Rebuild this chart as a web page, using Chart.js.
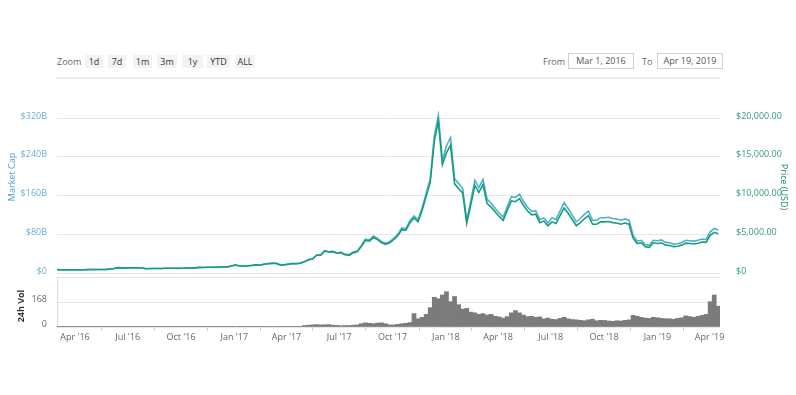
<!DOCTYPE html>
<html>
<head>
<meta charset="utf-8">
<script src="https://cdn.jsdelivr.net/npm/chart.js@4.4.1/dist/chart.umd.min.js"></script>
<style>
body { margin: 0; background: #fff; font-family: 'Open Sans', sans-serif; }
#wrap { position: relative; width: 796px; height: 395px; overflow: hidden; }
canvas { position: absolute; left: 0; top: 0; }
.lbl { position: absolute; top: 55px; line-height: 13px; font-size: 9px; color: #666; }
.btn { position: absolute; top: 55px; height: 13px; line-height: 13px; background: #f3f3f3; color: #333; font-size: 9px; text-align: center; }
.box { position: absolute; top: 53px; height: 14px; line-height: 14px; border: 1px solid #d2d2d2; color: #555; font-size: 9px; text-align: center; }
.rule { position: absolute; left: 56px; top: 77px; width: 664px; height: 2px; background: #ededed; }
</style>
</head>
<body>
<div id="wrap">
  <div class="lbl" style="left:57px">Zoom</div>
  <div class="btn" style="left:85px;width:18px">1d</div>
  <div class="btn" style="left:108px;width:18px">7d</div>
  <div class="btn" style="left:133px;width:19px">1m</div>
  <div class="btn" style="left:157px;width:20px">3m</div>
  <div class="btn" style="left:182px;width:21px">1y</div>
  <div class="btn" style="left:207px;width:23px">YTD</div>
  <div class="btn" style="left:235px;width:20px">ALL</div>
  <div class="lbl" style="left:543px">From</div>
  <div class="box" style="left:568px;width:64px">Mar 1, 2016</div>
  <div class="lbl" style="left:642px">To</div>
  <div class="box" style="left:657px;width:64px">Apr 19, 2019</div>
  <div class="rule"></div>
  <canvas id="main" width="796" height="395"></canvas>
  <canvas id="vol" width="796" height="395"></canvas>
</div>
<script>
// weekly samples, starting Mar 1, 2016
var startDate = '2016-03-01';
var endDate = '2019-04-19';
var stepDays = 7;

// price in USD
var price = [
  435, 412, 415, 418, 416, 421, 424, 430, 460, 448,
  455, 454, 445, 535, 580, 690, 665, 645, 670, 668,
  672, 655, 545, 590, 575, 585, 577, 610, 608, 610,
  605, 612, 640, 636, 655, 730, 710, 745, 740, 735,
  765, 780, 795, 900, 1035, 905, 900, 920, 970, 1050,
  1000, 1120, 1190, 1240, 1240, 1040, 1045, 1130, 1210, 1200,
  1260, 1450, 1720, 1800, 2300, 2300, 2850, 2700, 2750, 2550,
  2600, 2350, 2280, 2600, 2730, 3400, 4200, 4100, 4600, 4300,
  3900, 3700, 3900, 4300, 4800, 5600, 5500, 6500, 7100, 6600,
  8100, 9900, 11700, 17000, 19600, 14000, 15500, 16500, 11500, 10900,
  10300, 6400, 8800, 11300, 10400, 11400, 9000, 8500, 7900, 7300,
  6800, 8100, 9300, 9200, 9600, 8700, 8000, 7500, 7600, 6500,
  6700, 6100, 6600, 6400, 7400, 8400, 7700, 6900, 6100, 6500,
  7000, 7400, 6300, 6300, 6600, 6600, 6650, 6500, 6450, 6300,
  6450, 6300, 4500, 3800, 3900, 3400, 3300, 3900, 3800, 3900,
  3600, 3550, 3400, 3450, 3600, 3850, 3800, 3750, 3850, 4000,
  3950, 4850, 5250, 5050
];

// market cap in billions USD
var marketCap = [
  6.68, 6.32, 6.37, 6.42, 6.39, 6.46, 6.51, 6.60, 7.06, 6.88,
  7.10, 7.08, 6.94, 8.35, 9.05, 10.76, 10.37, 10.06, 10.45, 10.42,
  10.68, 10.41, 8.67, 9.38, 9.14, 9.30, 9.17, 9.70, 9.67, 9.70,
  9.62, 9.73, 10.18, 10.11, 10.41, 11.61, 11.29, 11.85, 11.77, 11.69,
  12.16, 12.40, 12.64, 14.31, 16.77, 14.66, 14.58, 14.90, 15.71, 17.01,
  16.20, 18.14, 19.28, 20.09, 20.09, 16.85, 16.93, 18.31, 19.60, 19.44,
  20.41, 23.49, 27.86, 29.16, 37.26, 37.26, 46.17, 43.74, 44.55, 41.31,
  43.16, 39.01, 37.85, 43.16, 45.32, 56.44, 69.72, 68.06, 76.36, 71.38,
  64.74, 61.42, 64.74, 71.38, 79.68, 92.96, 91.30, 107.9, 117.9, 109.6,
  134.5, 164.3, 194.2, 282.2, 325.4, 232.4, 262.7, 279.7, 194.9, 184.8,
  174.6, 108.5, 149.2, 191.5, 176.3, 193.2, 152.6, 144.1, 133.9, 123.7,
  115.3, 137.3, 157.6, 155.9, 162.7, 147.5, 135.6, 127.1, 128.8, 110.2,
  113.6, 103.4, 114.2, 110.7, 128.0, 145.3, 133.2, 119.4, 105.5, 112.5,
  121.1, 128.0, 109.0, 109.0, 114.2, 114.2, 115.0, 112.5, 111.6, 109.0,
  111.6, 109.0, 77.9, 65.7, 67.5, 58.8, 57.1, 67.5, 66.7, 68.4,
  63.2, 62.3, 59.7, 60.5, 63.2, 67.6, 66.7, 65.8, 67.6, 70.2,
  69.3, 85.1, 92.1, 88.6
];

// 24h volume (axis units)
var volume = [
  1, 1, 1, 1, 1, 1, 1, 1, 1, 1,
  1, 1, 1, 1, 2, 2, 2, 1, 1, 1,
  1, 1, 2, 1, 1, 1, 1, 1, 1, 1,
  1, 1, 1, 1, 1, 1, 1, 1, 1, 1,
  1, 1, 1, 2, 3, 2, 2, 2, 2, 2,
  2, 2, 3, 3, 3, 2, 2, 2, 2, 2,
  2, 10, 12, 14, 16, 14, 15, 16, 12, 11,
  8, 10, 10, 12, 14, 22, 28, 25, 22, 26,
  28, 22, 14, 14, 18, 22, 25, 30, 90, 55,
  65, 85, 130, 200, 190, 215, 237, 170, 205, 150,
  120, 125, 100, 95, 85, 90, 80, 85, 72, 68,
  60, 70, 95, 110, 95, 80, 70, 72, 65, 68,
  55, 60, 52, 50, 58, 65, 55, 50, 48, 45,
  42, 48, 52, 42, 45, 44, 40, 38, 42, 40,
  45, 48, 78, 72, 65, 60, 58, 65, 62, 58,
  56, 55, 52, 58, 62, 75, 70, 65, 72, 78,
  85, 170, 215, 140
];

var tickDates = ['2016-04-01', '2016-07-01', '2016-10-01', '2017-01-01', '2017-04-01', '2017-07-01',
  '2017-10-01', '2018-01-01', '2018-04-01', '2018-07-01', '2018-10-01', '2019-01-01', '2019-04-01'];
var tickLabels = ["Apr '16", "Jul '16", "Oct '16", "Jan '17", "Apr '17", "Jul '17",
  "Oct '17", "Jan '18", "Apr '18", "Jul '18", "Oct '18", "Jan '19", "Apr '19"];

var capTicks = [0, 80, 160, 240, 320];
var priceTicks = [0, 5000, 10000, 15000, 20000];
var volTicks = [0, 168, 336];

function dayOf(s) {
  return (Date.parse(s) - Date.parse(startDate)) / 86400000;
}
function points(arr) {
  return arr.map(function(v, i) { return { x: i * stepDays, y: v }; });
}
var xMax = dayOf(endDate);
var FONT = "'Open Sans', sans-serif";
Chart.defaults.font.family = FONT;
Chart.defaults.font.size = 9;

// rotated axis titles at fixed spots
function titlePlugin(items) {
  return {
    id: 'titles',
    afterDraw: function(chart) {
      var ctx = chart.ctx;
      items.forEach(function(t) {
        ctx.save();
        ctx.translate(t.x, t.y);
        ctx.rotate(t.rot);
        ctx.font = (t.bold ? 'bold ' : '') + '9px ' + FONT;
        ctx.fillStyle = t.color;
        ctx.textAlign = 'center';
        ctx.textBaseline = 'middle';
        ctx.fillText(t.text, 0, 0);
        ctx.restore();
      });
    }
  };
}

new Chart(document.getElementById('main'), {
  type: 'line',
  data: {
    datasets: [{
      label: 'Price (USD)',
      data: points(price),
      yAxisID: 'yPrice',
      borderColor: '#1c9b7a',
      borderWidth: 1.6,
      pointRadius: 0,
      tension: 0,
      clip: false
    }, {
      label: 'Market Cap',
      data: points(marketCap),
      yAxisID: 'yCap',
      borderColor: '#47b2cf',
      borderWidth: 1.6,
      pointRadius: 0,
      tension: 0,
      clip: false
    }]
  },
  options: {
    responsive: false,
    animation: false,
    devicePixelRatio: 1,
    layout: { padding: { left: 0, right: 0, top: 118, bottom: 122 } },
    plugins: { legend: { display: false }, tooltip: { enabled: false } },
    scales: {
      x: { type: 'linear', min: 0, max: xMax, display: false },
      yCap: {
        position: 'left', min: 0, max: 320,
        afterBuildTicks: function(s) { s.ticks = capTicks.map(function(v) { return { value: v }; }); },
        afterFit: function(s) { s.width = 57; },
        ticks: {
          color: '#6badd4', padding: 10, labelOffset: -2,
          callback: function(v) { return v === 0 ? '$0' : '$' + v + 'B'; }
        },
        grid: { color: '#e6e6e6', drawTicks: false },
        border: { display: false }
      },
      yPrice: {
        position: 'right', min: 0, max: 20000,
        afterBuildTicks: function(s) { s.ticks = priceTicks.map(function(v) { return { value: v }; }); },
        afterFit: function(s) { s.width = 76; },
        ticks: {
          color: '#2e9c7d', padding: 8, labelOffset: -2,
          callback: function(v) {
            return v === 0 ? '$0' : '$' + v.toLocaleString('en-US', { minimumFractionDigits: 2 });
          }
        },
        grid: { display: false },
        border: { display: false }
      }
    }
  },
  plugins: [titlePlugin([
    { text: 'Market Cap', x: 12, y: 177, rot: -Math.PI / 2, color: '#4aa3cc' },
    { text: 'Price (USD)', x: 784, y: 187, rot: Math.PI / 2, color: '#1e8e6f' }
  ])]
});

new Chart(document.getElementById('vol'), {
  type: 'bar',
  data: {
    datasets: [{
      label: '24h Vol',
      data: points(volume),
      yAxisID: 'yVol',
      backgroundColor: '#7b7b7b',
      barPercentage: 1,
      categoryPercentage: 1
    }]
  },
  options: {
    responsive: false,
    animation: false,
    devicePixelRatio: 1,
    layout: { padding: { left: 0, right: 76, top: 277, bottom: 0 } },
    plugins: { legend: { display: false }, tooltip: { enabled: false } },
    scales: {
      x: {
        type: 'linear', min: 0, max: xMax, offset: false,
        afterBuildTicks: function(s) { s.ticks = tickDates.map(function(d) { return { value: dayOf(d) }; }); },
        afterFit: function(s) { s.height = 68; },
        ticks: {
          color: '#666', padding: 1, autoSkip: false, maxRotation: 0,
          callback: function(v, i) { return tickLabels[i]; }
        },
        grid: { drawOnChartArea: false, tickLength: 4, color: '#cfcfcf' },
        border: { display: false }
      },
      yVol: {
        position: 'left', min: 0, max: 336,
        afterBuildTicks: function(s) { s.ticks = volTicks.map(function(v) { return { value: v }; }); },
        afterFit: function(s) { s.width = 57; },
        ticks: {
          color: '#666', padding: 10, labelOffset: -3,
          callback: function(v) { return v === 336 ? '' : String(v); }
        },
        grid: { color: '#e6e6e6', drawTicks: false },
        border: { display: true, color: '#dcdcdc' }
      }
    }
  },
  plugins: [titlePlugin([
    { text: '24h Vol', x: 21, y: 306, rot: -Math.PI / 2, color: '#333', bold: true }
  ])]
});
</script>
</body>
</html>
